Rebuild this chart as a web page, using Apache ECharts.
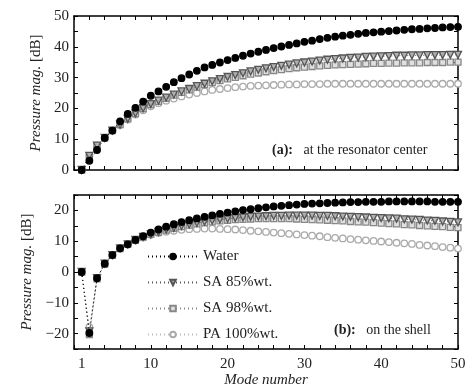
<!DOCTYPE html>
<html lang="en">
<head>
<meta charset="UTF-8">
<script src="https://cdn.jsdelivr.net/npm/echarts@6/dist/echarts.min.js"></script>
<style>
  * { margin: 0; padding: 0; }
  #chart { width: 469px; height: 389px; background: #fff; }
</style>
</head>
<body>
<div id="chart"></div>
<script>
  const modes = Array.from({length: 50}, (_, i) => i + 1);
  const seriesNames = ['Water', 'SA 85%wt.', 'SA 98%wt.', 'PA 100%wt.'];
  const xTickLabels = [1, 10, 20, 30, 40, 50];
  const yTopLabels = [0, 10, 20, 30, 40, 50];
  const yBotLabels = [-20, -10, 0, 10, 20];

  // (a) at the resonator center
  const centerWater = [0, 3.0, 6.5, 10.4, 12.8, 15.8, 18.2, 20.2, 22.2, 24.1,
    25.5, 27.0, 28.5, 29.8, 31.0, 32.2, 33.3, 34.1, 34.9, 35.7,
    36.4, 37.1, 37.8, 38.4, 39.0, 39.6, 40.1, 40.6, 41.1, 41.6,
    42.0, 42.5, 42.9, 43.3, 43.6, 43.9, 44.2, 44.5, 44.7, 44.9,
    45.1, 45.3, 45.5, 45.7, 45.8, 46.0, 46.1, 46.3, 46.4, 46.5];
  const centerSA85 = [0, 4.6, 7.9, 10.4, 12.8, 14.7, 16.6, 18.4, 20.0, 21.4,
    22.5, 23.5, 24.5, 25.5, 26.3, 27.2, 28.0, 28.8, 29.5, 30.2,
    30.8, 31.4, 32.0, 32.5, 33.0, 33.4, 33.8, 34.2, 34.6, 34.9,
    35.2, 35.5, 35.8, 36.0, 36.2, 36.4, 36.5, 36.7, 36.8, 36.9,
    37.0, 37.1, 37.1, 37.2, 37.2, 37.3, 37.3, 37.3, 37.4, 37.4];
  const centerSA98 = [0, 4.6, 7.9, 10.4, 12.8, 14.7, 16.6, 18.3, 19.9, 21.2,
    22.3, 23.3, 24.3, 25.2, 26.0, 26.9, 27.7, 28.4, 29.0, 29.6,
    30.1, 30.6, 31.1, 31.5, 31.9, 32.3, 32.6, 32.9, 33.2, 33.4,
    33.6, 33.8, 34.0, 34.1, 34.2, 34.3, 34.4, 34.5, 34.6, 34.6,
    34.7, 34.7, 34.8, 34.8, 34.8, 34.9, 34.9, 34.9, 35.0, 35.0];
  const centerPA = [0, 4.6, 7.9, 10.4, 12.8, 14.6, 16.4, 18.0, 19.4, 20.7,
    21.7, 22.5, 23.2, 23.9, 24.5, 25.0, 25.5, 26.0, 26.3, 26.6,
    26.9, 27.1, 27.3, 27.4, 27.5, 27.6, 27.7, 27.8, 27.8, 27.9,
    27.9, 27.9, 28.0, 28.0, 28.0, 28.0, 28.0, 28.0, 28.0, 28.0,
    28.0, 28.0, 28.0, 28.0, 28.0, 28.0, 28.0, 28.0, 28.0, 28.0];

  // (b) on the shell
  const shellWater = [0, -19.8, -2.0, 2.7, 5.5, 7.7, 9.0, 10.4, 11.6, 12.8,
    13.8, 14.7, 15.5, 16.2, 16.8, 17.4, 17.9, 18.4, 18.9, 19.3,
    19.7, 20.1, 20.4, 20.7, 21.0, 21.3, 21.5, 21.7, 21.9, 22.1,
    22.2, 22.3, 22.4, 22.5, 22.6, 22.7, 22.7, 22.8, 22.8, 22.8,
    22.9, 22.9, 22.9, 22.9, 22.9, 22.9, 22.8, 22.8, 22.8, 22.8];
  const shellSA85 = [0, -19.3, -2.0, 2.7, 5.5, 7.7, 9.0, 10.4, 11.4, 12.2,
    13.0, 13.7, 14.3, 14.9, 15.4, 15.9, 16.3, 16.7, 17.0, 17.3,
    17.5, 17.7, 17.9, 18.0, 18.1, 18.2, 18.2, 18.3, 18.3, 18.3,
    18.3, 18.2, 18.2, 18.1, 18.0, 17.9, 17.8, 17.7, 17.6, 17.5,
    17.4, 17.3, 17.1, 17.0, 16.9, 16.7, 16.6, 16.4, 16.3, 16.1];
  const shellSA98 = [0, -20.3, -2.2, 2.6, 5.4, 7.6, 9.0, 10.3, 11.3, 12.2,
    12.9, 13.6, 14.2, 14.7, 15.2, 15.6, 16.0, 16.3, 16.6, 16.8,
    17.0, 17.1, 17.2, 17.3, 17.3, 17.3, 17.3, 17.3, 17.2, 17.1,
    17.0, 16.9, 16.8, 16.7, 16.6, 16.4, 16.3, 16.2, 16.0, 15.9,
    15.7, 15.6, 15.4, 15.3, 15.1, 15.0, 14.8, 14.7, 14.5, 14.4];
  const shellPA = [0, -17.9, -2.0, 2.6, 5.4, 7.6, 8.9, 10.2, 11.2, 12.1,
    12.7, 13.1, 13.4, 13.7, 13.9, 14.0, 14.1, 14.1, 14.0, 13.9,
    13.8, 13.6, 13.4, 13.2, 13.0, 12.8, 12.6, 12.4, 12.2, 12.0,
    11.8, 11.6, 11.3, 11.1, 10.9, 10.7, 10.5, 10.3, 10.1, 9.9,
    9.7, 9.5, 9.3, 9.1, 8.8, 8.6, 8.4, 8.1, 7.9, 7.6];

  const serif = 'Liberation Serif';
  const styles = [
    {symbol: 'circle', symbolSize: 6.5, rotate: 0, color: '#000', fill: '#000', line: '#000'},
    {symbol: 'triangle', symbolSize: 7, rotate: 180, color: '#555', fill: '#b0b0b0', line: '#555'},
    {symbol: 'rect', symbolSize: 6, rotate: 0, color: '#888', fill: '#e0e0e0', line: '#888'},
    {symbol: 'circle', symbolSize: 6.5, rotate: 0, color: '#aaa', fill: '#fff', line: '#bbb'}
  ];

  const mkSeries = (name, values, idx, gridIdx) => {
    const s = styles[idx];
    return {
      name, type: 'line',
      xAxisIndex: gridIdx * 2, yAxisIndex: gridIdx * 2,
      data: modes.map((m, i) => [m, values[i]]),
      symbol: s.symbol, symbolSize: s.symbolSize, symbolRotate: s.rotate,
      showAllSymbol: true,
      itemStyle: {color: s.fill, borderColor: s.color, borderWidth: 1.3},
      lineStyle: {color: s.line, width: 1, type: [1, 3]},
      emphasis: {disabled: true},
      animation: false,
      z: 10 - idx
    };
  };

  const grids = [
    {left: 74, top: 16, width: 384, height: 154},
    {left: 74, top: 195, width: 384, height: 154}
  ];

  const axisLine = {show: true, onZero: false, lineStyle: {color: '#000', width: 1.5}};
  const tick = {show: true, inside: true, length: 4, lineStyle: {color: '#000', width: 1}};
  const labelFont = {fontFamily: serif, fontSize: 15, color: '#222'};
  const minus = v => String(v).replace('-', '\u2212');

  const xAxes = [];
  const yAxes = [];
  [0, 1].forEach(g => {
    xAxes.push({
      type: 'value', gridIndex: g, position: 'bottom', min: 0, max: 50, interval: 2,
      axisLine, axisTick: tick, splitLine: {show: false},
      axisLabel: g === 1
        ? Object.assign({show: true, customValues: xTickLabels, margin: 8}, labelFont)
        : {show: false},
      name: g === 1 ? 'Mode number' : '', nameLocation: 'middle', nameGap: 24,
      nameTextStyle: {fontFamily: serif, fontSize: 15, fontStyle: 'italic', color: '#222'}
    });
    xAxes.push({
      type: 'value', gridIndex: g, position: 'top', min: 0, max: 50, interval: 2,
      axisLine, axisTick: tick, axisLabel: {show: false}, splitLine: {show: false}
    });
    const yMin = g === 0 ? 0 : -25;
    const yMax = g === 0 ? 50 : 25;
    yAxes.push({
      type: 'value', gridIndex: g, position: 'left', min: yMin, max: yMax, interval: 5,
      axisLine, axisTick: tick, splitLine: {show: false},
      axisLabel: Object.assign({
        customValues: g === 0 ? yTopLabels : yBotLabels, margin: 5, formatter: minus
      }, labelFont),
      name: '{i|Pressure mag.} [dB]', nameLocation: 'middle', nameGap: 30, nameRotate: 90,
      nameTextStyle: {
        fontFamily: serif, fontSize: 15, color: '#222',
        rich: {i: {fontFamily: serif, fontSize: 15, fontStyle: 'italic', color: '#222'}}
      }
    });
    yAxes.push({
      type: 'value', gridIndex: g, position: 'right', min: yMin, max: yMax, interval: 5,
      axisLine, axisTick: tick, axisLabel: {show: false}, splitLine: {show: false}
    });
  });

  const series = [
    mkSeries(seriesNames[0], centerWater, 0, 0),
    mkSeries(seriesNames[1], centerSA85, 1, 0),
    mkSeries(seriesNames[2], centerSA98, 2, 0),
    mkSeries(seriesNames[3], centerPA, 3, 0),
    mkSeries(seriesNames[0], shellWater, 0, 1),
    mkSeries(seriesNames[1], shellSA85, 1, 1),
    mkSeries(seriesNames[2], shellSA98, 2, 1),
    mkSeries(seriesNames[3], shellPA, 3, 1)
  ];

  const chart = echarts.init(document.getElementById('chart'), null, {renderer: 'canvas'});
  chart.setOption({
    animation: false,
    backgroundColor: '#fff',
    grid: grids,
    xAxis: xAxes,
    yAxis: yAxes,
    series,
    legend: {
      data: seriesNames,
      orient: 'vertical',
      left: 147, top: 249,
      itemWidth: 50, itemHeight: 7, itemGap: 11,
      padding: 0,
      textStyle: {fontFamily: serif, fontSize: 15, color: '#222'},
      selectedMode: false
    },
    graphic: [
      {
        type: 'text', left: 272, top: 143, z: 100,
        style: {
          text: '{b|(a):}   at the resonator center',
          fontFamily: serif, fontSize: 14, fill: '#222',
          rich: {b: {fontFamily: serif, fontSize: 14, fontWeight: 'bold', fill: '#222'}}
        }
      },
      {
        type: 'text', left: 334, top: 323, z: 100,
        style: {
          text: '{b|(b):}   on the shell',
          fontFamily: serif, fontSize: 14, fill: '#222',
          rich: {b: {fontFamily: serif, fontSize: 14, fontWeight: 'bold', fill: '#222'}}
        }
      }
    ]
  });
</script>
</body>
</html>
